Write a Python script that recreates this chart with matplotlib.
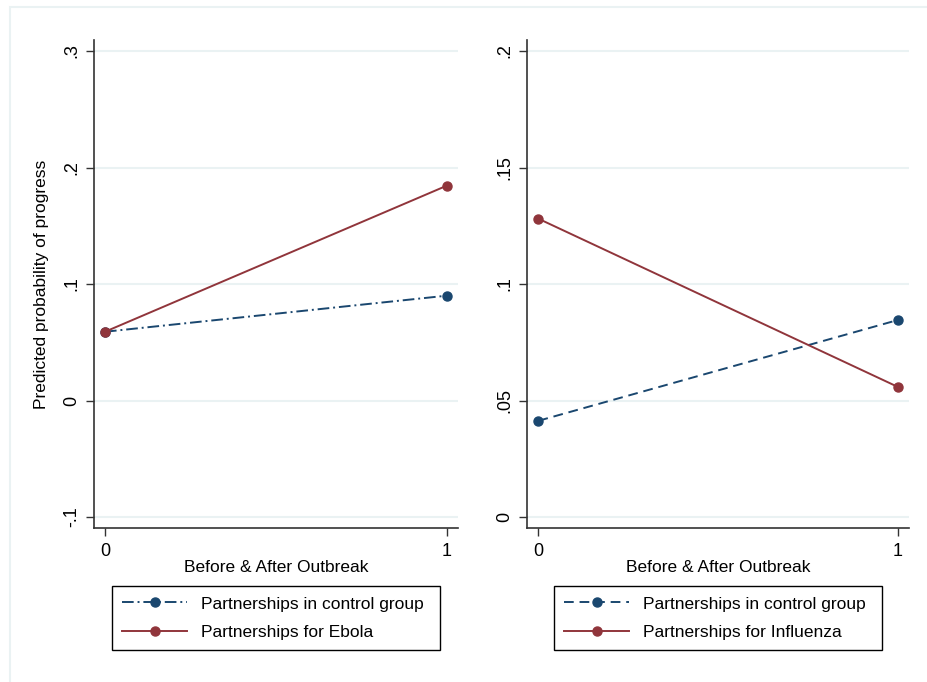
import numpy as np
import matplotlib.pyplot as plt
from matplotlib.patches import Rectangle

plt.rcParams['font.family'] = ['Liberation Sans', 'DejaVu Sans']

period = [0, 1]
xtick_labels = ['0', '1']

ebola_control = [0.059, 0.090]
ebola_treat = [0.059, 0.1845]
ebola_yticks = [-0.1, 0.0, 0.1, 0.2, 0.3]
ebola_ylabels = ['-.1', '0', '.1', '.2', '.3']

flu_control = [0.0413, 0.0845]
flu_treat = [0.128, 0.0559]
flu_yticks = [0.0, 0.05, 0.1, 0.15, 0.2]
flu_ylabels = ['0', '.05', '.1', '.15', '.2']

navy = '#1a476f'
maroon = '#90353b'
grid_col = '#eaf2f3'
spine_col = '#333333'

W, H = 928, 682
fig = plt.figure(figsize=(W / 100, H / 100), dpi=100)

# light outer frame of the graph region
fig.patches.append(Rectangle((10 / W, -0.05), 1.2, 1 - 7 / H + 0.05, transform=fig.transFigure,
                             fill=False, edgecolor=grid_col, linewidth=1.5))


def make_panel(left, right, control, treat, yticks, ylabels, ctrl_style, treat_name, legend_x, ylabel=None):
    ax = fig.add_axes([left / W, (H - 528) / H, (right - left) / W, (528 - 40) / H])
    step = yticks[1] - yticks[0]
    pad = step * 11 / 116.5
    ax.set_ylim(yticks[0] - pad, yticks[-1] + pad)
    ax.set_xlim(-0.032, 1.032)
    ax.set_yticks(yticks)
    ax.set_yticklabels(ylabels, rotation=90, va='center')
    ax.set_xticks(period)
    ax.set_xticklabels(xtick_labels)
    ax.tick_params(axis='both', labelsize=13, color=spine_col, length=6, width=1)
    ax.tick_params(axis='y', pad=4)
    ax.tick_params(axis='x', pad=5)
    for s in ['top', 'right']:
        ax.spines[s].set_visible(False)
    for s in ['left', 'bottom']:
        ax.spines[s].set_color(spine_col)
        ax.spines[s].set_linewidth(1.2)
    ax.grid(axis='y', color=grid_col, linewidth=1.5)
    ax.set_axisbelow(True)

    ax.plot(period, control, color=navy, linestyle=ctrl_style, linewidth=1.4,
            marker='o', markersize=6.5, label='Partnerships in control group')
    ax.plot(period, treat, color=maroon, linestyle='-', linewidth=1.4,
            marker='o', markersize=6.5, label=treat_name)

    ax.set_xlabel('Before & After Outbreak', fontsize=12.5, labelpad=0)
    if ylabel:
        ax.set_ylabel(ylabel, fontsize=12.5, labelpad=10)

    leg = ax.legend(loc='upper left', bbox_to_anchor=(legend_x[0] / W, (H - 586) / H,
                                                      (legend_x[1] - legend_x[0]) / W, 0.0),
                    bbox_transform=fig.transFigure, mode='expand', fontsize=12.5,
                    handlelength=3.7, handletextpad=0.8, borderpad=0.6, labelspacing=0.75,
                    borderaxespad=0, fancybox=False, framealpha=1)
    leg.get_frame().set_edgecolor('black')
    leg.get_frame().set_linewidth(1.0)
    return ax


make_panel(94, 458, ebola_control, ebola_treat, ebola_yticks, ebola_ylabels,
           (0, (6, 2, 1, 2)), 'Partnerships for Ebola', (112, 440),
           ylabel='Predicted probability of progress')
make_panel(527, 909, flu_control, flu_treat, flu_yticks, flu_ylabels,
           (0, (5, 3)), 'Partnerships for Influenza', (554, 882))

fig.savefig('out.png', dpi=100)
